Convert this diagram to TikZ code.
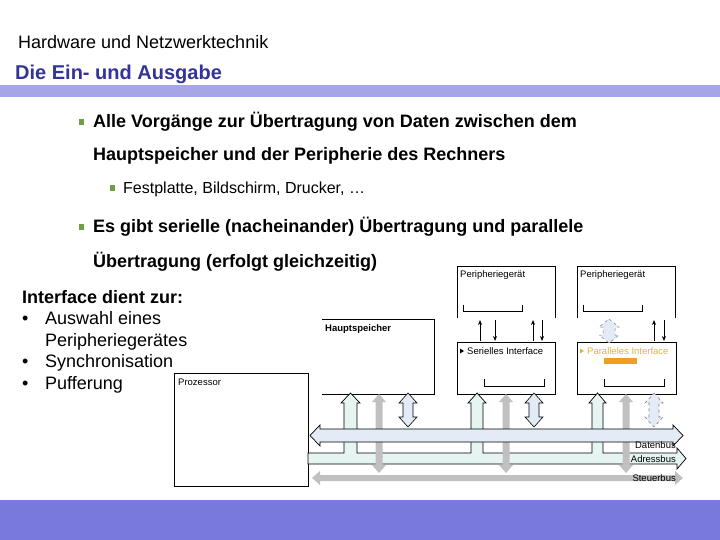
\documentclass[tikz,border=0pt]{standalone}
\usepackage{fontspec}
\setmainfont{Liberation Sans}
\usetikzlibrary{arrows.meta}
\definecolor{titleblue}{HTML}{333399}
\definecolor{bandlight}{HTML}{A6A6E6}
\definecolor{bandfoot}{HTML}{7979DB}
\definecolor{bulletgreen}{HTML}{6E9E45}
\definecolor{databus}{HTML}{E3EBF6}
\definecolor{addrbus}{HTML}{E6F5F2}
\definecolor{ctrlgray}{HTML}{C0C0C0}
\definecolor{pargold}{HTML}{E2B23E}
\definecolor{parorange}{HTML}{F39C1E}

\begin{document}
\begin{tikzpicture}[x=1pt, y=-1pt, >={Stealth[length=5pt, width=4pt]},
  txt/.style={inner sep=0pt, anchor=base west},
  head/.style={txt, font=\fontsize{18}{20}\selectfont\bfseries},
  body/.style={txt, font=\fontsize{18}{20}\selectfont},
  small/.style={txt, font=\fontsize{9.5}{11}\selectfont},
  buslabel/.style={small, anchor=base east},
  unitbox/.style={line width=0.8pt},
  sigline/.style={->, line width=0.8pt}]

\useasboundingbox (0,0) rectangle (720,540);

% Bands
\fill[bandlight] (0,85) rectangle (720,97);
\fill[bandfoot] (0,500) rectangle (720,540);

% Title
\node[txt, font=\fontsize{18}{20}\selectfont] (kopf) at (18,49) {Hardware und Netzwerktechnik};
\node[txt, font=\fontsize{20}{22}\selectfont\bfseries, text=titleblue] (titel) at (15,80)
  {Die Ein- und Ausgabe};

% Bullet points
\foreach \y in {122,227} {
  \fill[bulletgreen] (79,\y-3) rectangle (84,\y+3);
}
\fill[bulletgreen] (110,185) rectangle (115,191);
\node[head] (pkt1a) at (93,128) {Alle Vorgänge zur Übertragung von Daten zwischen dem};
\node[head] (pkt1b) at (93,161) {Hauptspeicher und der Peripherie des Rechners};
\node[txt, font=\fontsize{16}{18}\selectfont] (pkt1c) at (123,194) {Festplatte, Bildschirm, Drucker, …};
\node[head] (pkt2a) at (93,233) {Es gibt serielle (nacheinander) Übertragung und parallele};
\node[head] (pkt2b) at (93,267) {Übertragung (erfolgt gleichzeitig)};

% Interface list
\node[head] (ifkopf) at (22,303) {Interface dient zur:};
\foreach \y in {324,367,389} {
  \node[body] (dot\y) at (22,\y) {•};
}
\node[body] (if1) at (45,324) {Auswahl eines};
\node[body] (if1b) at (45,346) {Peripheriegerätes};
\node[body] (if2) at (45,367) {Synchronisation};
\node[body] (if3) at (45,389) {Pufferung};

% === Units ===
% Prozessor
\draw[unitbox] (174,373) rectangle (308,486);
\node[small] (cpu) at (178,385) {Prozessor};

% Hauptspeicher (no left edge)
\draw[unitbox] (322,319) -- (434,319) -- (434,394) -- (322,394);
\node[small, font=\fontsize{9.5}{11}\selectfont\bfseries] (ram) at (325,331) {Hauptspeicher};

% Peripheriegeraete (open at the bottom)
\foreach \x/\n in {457/gerA, 577/gerB} {
  \draw[unitbox] (\x,318) -- (\x,266) -- ({\x+98},266) -- ({\x+98},318);
  \draw[line width=0.8pt] ({\x+6},305) -- ({\x+6},311) -- ({\x+65},311) -- ({\x+65},305);
  \node[small] (\n) at ({\x+3},277) {Peripheriegerät};
}

% Interfaces
\draw[unitbox] (457,342) rectangle (555,394);
\draw[unitbox] (577,342) rectangle (676,394);
\foreach \x in {484,604} {
  \draw[line width=0.8pt] (\x,379) -- (\x,386) -- ({\x+60},386) -- ({\x+60},379);
}
\fill (460,348.5) -- (464,351) -- (460,353.5) -- cycle;
\fill[pargold] (580,348.5) -- (584,351) -- (580,353.5) -- cycle;
\node[small] (seriell) at (467,354) {Serielles Interface};
\node[small, text=pargold] (parallel) at (587,354) {Paralleles Interface};
\fill[parorange] (604,358) rectangle (637,364);

% Signals between device and interface
\foreach \x in {480,533,654} {
  \draw[sigline] (\x,341) -- (\x,320);
}
\foreach \x in {495,542,664} {
  \draw[sigline] (\x,320) -- (\x,341);
}
\filldraw[fill=databus, draw=gray, dashed, line width=0.5pt]
  (609,319) -- (619,327) -- (615,327) -- (615,335) -- (619,335) -- (609,343)
  -- (599,335) -- (603,335) -- (603,327) -- (599,327) -- cycle;

% === Buses ===
% Adressbus with branches into the units
\filldraw[fill=addrbus, draw=black, line width=0.7pt] (308,453)
  \foreach \a/\b in {344/357, 471/483, 592/603} {
    -- (\a,453) -- (\a,403) -- ({\a-3},403) -- ({(\a+\b)/2},393)
    -- ({\b+3},403) -- (\b,403) -- (\b,453)
  }
  -- (677,453) -- (677,448) -- (686,458.5) -- (677,469) -- (677,464) -- (308,464) -- cycle;

% Steuerleitungen
\foreach \x in {379,506,626} {
  \fill[ctrlgray] (\x,394) -- ({\x+7},402) -- ({\x+3.5},402) -- ({\x+3.5},465)
    -- ({\x+7},465) -- (\x,473) -- ({\x-7},465) -- ({\x-3.5},465)
    -- ({\x-3.5},402) -- ({\x-7},402) -- cycle;
}

% Steuerbus
\fill[ctrlgray] (312,478) -- (320,471) -- (320,475) -- (675,475) -- (675,471) -- (683,478)
  -- (675,485) -- (675,481) -- (320,481) -- (320,485) -- cycle;

% Datenbus
\filldraw[fill=databus, draw=black, line width=0.7pt]
  (310,435.5) -- (320,425) -- (320,429) -- (673,429) -- (673,425) -- (683,435.5)
  -- (673,446) -- (673,442) -- (320,442) -- (320,446) -- cycle;

% Datenleitungen
\foreach \x/\ds/\dc in {408/solid/black, 534/solid/black, 654/dashed/gray} {
  \filldraw[fill=databus, draw=\dc, line width=0.6pt, \ds]
    (\x,393) -- ({\x+9},403) -- ({\x+5},403) -- ({\x+5},417) -- ({\x+9},417)
    -- (\x,427) -- ({\x-9},417) -- ({\x-5},417) -- ({\x-5},403) -- ({\x-9},403) -- cycle;
}

% Bus labels
\node[buslabel] (dbus) at (676,448.5) {Datenbus};
\node[buslabel] (abus) at (676,462.5) {Adressbus};
\node[buslabel] (sbus) at (676,481.5) {Steuerbus};

\end{tikzpicture}
\end{document}
